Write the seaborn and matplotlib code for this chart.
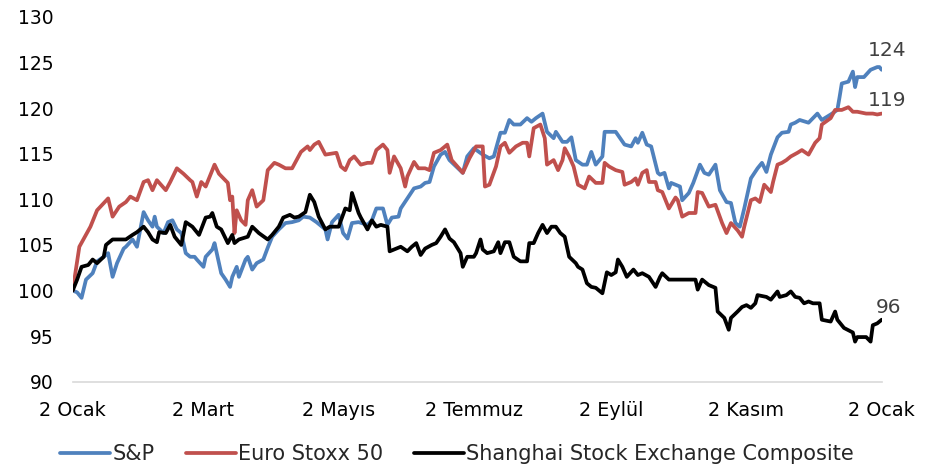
import pandas as pd
import matplotlib
matplotlib.use("Agg")
import matplotlib.pyplot as plt
import seaborn as sns

sns.set_style("white")
plt.rcParams['font.family'] = ['DejaVu Sans']

# day offsets from 2 Ocak 2023 and index values (2 Ocak = 100)
spx_days = [0, 2, 4, 6, 9, 11, 14, 16, 18, 20, 23, 24, 27, 29, 32, 34, 36, 37, 38, 41,
            43, 45, 47, 49, 51, 53, 55, 56, 59, 60, 63, 64, 65, 67, 69, 71, 72, 74, 75, 78,
            79, 81, 83, 86, 88, 90, 93, 96, 99, 102, 104, 107, 110, 114, 115, 117, 120, 122, 124, 126,
            129, 133, 135, 137, 140, 142, 144, 147, 148, 151, 154, 157, 159, 161, 163, 166, 168, 170, 173, 176,
            178, 181, 185, 188, 190, 193, 195, 197, 199, 202, 205, 207, 209, 212, 214, 217, 218, 221, 223, 225,
            227, 230, 232, 234, 236, 239, 240, 243, 245, 249, 252, 254, 255, 257, 259, 261, 264, 265, 267, 269,
            270, 274, 275, 278, 280, 283, 285, 287, 290, 292, 295, 297, 299, 301, 303, 306, 309, 311, 313, 315,
            318, 320, 323, 324, 326, 328, 332, 334, 336, 338, 342, 345, 346, 347, 350, 352, 353, 354, 357, 360,
            363, 364, 365]
spx_vals = [100, 99.8, 99.2, 101.2, 101.9, 103.2, 103.7, 104.1, 101.5, 103, 104.6, 104.8, 105.6, 104.8, 108.6, 107.7, 107, 108.1, 107, 106.3,
            107.5, 107.7, 106.7, 106.3, 104.1, 103.7, 103.7, 103.4, 102.6, 103.7, 104.5, 105.2, 104.1, 101.9, 101.2, 100.4, 101.5, 102.6, 101.5, 103.4,
            103.7, 102.3, 103, 103.4, 104.7, 105.9, 106.7, 107.4, 107.5, 107.7, 108.1, 108, 107.5, 106.7, 105.6, 107.5, 108.3, 106.3, 105.7, 107.4,
            107.5, 107.2, 107.7, 109, 109, 107.2, 108, 108.1, 109, 110.1, 111.2, 111.4, 111.8, 111.9, 113.6, 114.9, 115.2, 114.3, 113.6, 112.9,
            114.7, 115.6, 114.9, 114.5, 114.7, 117.3, 117.3, 118.7, 118.2, 118.2, 118.9, 118.5, 118.9, 119.4, 117.4, 116.7, 117.4, 116.3, 116.3, 116.8,
            114.3, 113.8, 113.8, 115.2, 113.8, 114.7, 117.4, 117.4, 117.4, 116, 115.8, 116.7, 116.2, 117.3, 116, 115.8, 112.9, 112.7, 112.9, 111.2,
            111.8, 111.4, 109.9, 110.7, 111.8, 113.8, 112.9, 112.7, 113.8, 111, 109.7, 109.6, 107.4, 107, 109, 112.3, 113.4, 114, 113, 114.9,
            116.8, 117.3, 117.4, 118.2, 118.4, 118.7, 118.4, 118.9, 119.4, 118.7, 119.3, 119.8, 121.2, 122.7, 122.9, 124, 122.3, 123.4, 123.4, 124.2,
            124.5, 124.5, 124.2]

sx5e_days = [0, 3, 8, 11, 16, 18, 21, 24, 26, 29, 32, 34, 36, 38, 42, 44, 47, 50, 53, 54,
             56, 58, 60, 64, 66, 70, 71, 72, 73, 74, 76, 78, 79, 81, 83, 86, 88, 91, 93, 96,
             99, 101, 103, 106, 107, 109, 111, 114, 119, 121, 123, 125, 127, 130, 133, 135, 137, 140, 142, 143,
             145, 148, 150, 151, 154, 156, 159, 161, 163, 166, 169, 171, 175, 176, 179, 182, 185, 186, 188, 191,
             193, 195, 197, 200, 203, 205, 206, 208, 211, 213, 214, 217, 219, 221, 222, 224, 226, 228, 231, 233,
             236, 239, 240, 242, 245, 248, 249, 252, 254, 255, 257, 259, 260, 263, 264, 266, 269, 272, 273, 275,
             278, 281, 282, 284, 287, 290, 293, 295, 297, 300, 302, 303, 306, 308, 310, 312, 315, 316, 318, 320,
             322, 324, 327, 329, 332, 335, 337, 338, 342, 344, 347, 350, 352, 354, 358, 361, 363, 365]
sx5e_vals = [100, 104.8, 107, 108.8, 110.1, 108.1, 109.2, 109.7, 110.3, 109.9, 111.9, 112.1, 111, 112.1, 111, 111.9, 113.4, 112.8, 112.1, 111.9,
             110.3, 111.9, 111.4, 113.8, 112.8, 111.8, 109.9, 110.3, 106.3, 108.8, 107.7, 107.2, 109.9, 111, 109.2, 109.9, 113.2, 114, 113.8, 113.4,
             113.4, 114.3, 115.2, 115.8, 115.4, 116, 116.3, 114.9, 115.1, 113.6, 113.2, 114.3, 114.7, 113.8, 114, 114, 115.4, 116, 115.4, 112.9,
             114.7, 113.4, 111.4, 112.5, 114.1, 113.4, 113.4, 113.2, 115.1, 115.4, 116, 114.3, 113.2, 112.9, 114.5, 115.8, 115.8, 111.4, 111.6, 113.6,
             115.8, 116.2, 115.1, 115.8, 116.2, 116.2, 114.7, 117.8, 118.2, 116.7, 113.8, 114.3, 113.2, 114.3, 115.6, 114.7, 113.6, 111.6, 111.2, 112.5,
             111.8, 111.8, 114, 113.6, 113.2, 113, 111.6, 111.9, 112.3, 111.6, 112.9, 113.2, 111.9, 111.9, 111, 110.8, 109, 110.2, 109.9, 108.1,
             108.5, 108.5, 110.8, 110.7, 109.2, 109.4, 107.4, 106.3, 107.4, 106.6, 105.9, 107, 109.9, 110.1, 109.7, 111.6, 110.8, 111.9, 113.8, 114,
             114.3, 114.7, 115.1, 115.4, 114.9, 116.2, 116.7, 118.2, 118.9, 119.8, 119.8, 120.1, 119.6, 119.6, 119.4, 119.4, 119.3, 119.4]

ssec_days = [0, 2, 4, 7, 9, 11, 14, 15, 18, 24, 27, 29, 32, 34, 36, 38, 39, 42, 44, 46,
             49, 51, 54, 57, 60, 62, 63, 65, 67, 70, 72, 73, 75, 79, 81, 84, 88, 90, 93, 95,
             98, 100, 102, 105, 107, 109, 111, 114, 116, 120, 123, 125, 126, 129, 130, 133, 135, 137, 139, 142,
             143, 145, 148, 151, 153, 155, 157, 159, 162, 164, 166, 168, 170, 172, 175, 176, 178, 181, 182, 184,
             185, 187, 190, 192, 193, 195, 197, 199, 202, 205, 206, 208, 210, 212, 214, 216, 218, 220, 222, 224,
             227, 228, 230, 232, 234, 236, 239, 241, 243, 245, 246, 248, 250, 253, 255, 257, 260, 263, 265, 266,
             269, 281, 282, 284, 287, 290, 291, 294, 296, 297, 300, 302, 304, 306, 308, 309, 313, 315, 318, 319,
             322, 324, 326, 328, 330, 332, 334, 337, 338, 342, 344, 345, 348, 352, 353, 354, 358, 360, 361, 363,
             365]
ssec_vals = [100, 101.2, 102.6, 102.8, 103.4, 103, 103.7, 105, 105.6, 105.6, 106.1, 106.4, 107, 106.4, 105.6, 105.3, 106.4, 106.3, 107.2, 105.9,
             105, 107.5, 107, 106.1, 108, 108.1, 108.5, 107, 106.7, 105.2, 106.1, 105.2, 105.6, 105.9, 107, 106.3, 105.6, 106.1, 107, 108,
             108.3, 108, 108.1, 108.6, 110.5, 109.7, 108.1, 106.7, 107, 107, 109, 108.8, 110.7, 108.5, 108, 106.7, 107.7, 107, 107.2, 107,
             104.3, 104.5, 104.8, 104.3, 104.8, 105.2, 103.9, 104.6, 105, 105.2, 105.9, 106.7, 105.7, 105.3, 104.1, 102.6, 103.7, 103.7, 104.1, 105.6,
             104.5, 104.1, 104.3, 105.3, 104.1, 105.3, 105.3, 103.7, 103.2, 103.2, 105.2, 105.2, 106.3, 107.2, 106.3, 107, 107, 106.3, 105.9, 103.7,
             103, 102.6, 102.3, 100.8, 100.4, 100.3, 99.7, 102, 101.7, 102, 103.4, 102.6, 101.5, 102.3, 101.7, 101.9, 101.5, 100.4, 101.5, 101.9,
             101.2, 101.2, 100.1, 101.2, 100.6, 100.3, 97.7, 97, 95.7, 97, 97.7, 98.2, 98.4, 98.1, 98.6, 99.5, 99.3, 99, 99.9, 99.3,
             99.5, 99.9, 99.3, 99.2, 98.6, 98.8, 98.6, 98.6, 96.8, 96.6, 97.7, 96.8, 95.9, 95.4, 94.4, 94.9, 94.9, 94.4, 96.2, 96.4,
             96.8]

series_names = ["S&P", "Euro Stoxx 50", "Shanghai Stock Exchange Composite"]
series_colors = ["#4F81BD", "#C0504D", "#000000"]
end_labels = ["124", "119", "96"]

tick_dates = ["2023-01-02", "2023-03-02", "2023-05-02", "2023-07-02",
              "2023-09-02", "2023-11-02", "2024-01-02"]
tick_labels = ["2 Ocak", "2 Mart", "2 Mayıs", "2 Temmuz", "2 Eylül", "2 Kasım", "2 Ocak"]

start = pd.Timestamp("2023-01-02")


def make_frame(days, vals, name):
    return pd.DataFrame({
        "tarih": start + pd.to_timedelta(days, unit="D"),
        "deger": vals,
        "seri": name,
    })


df = pd.concat([
    make_frame(spx_days, spx_vals, series_names[0]),
    make_frame(sx5e_days, sx5e_vals, series_names[1]),
    make_frame(ssec_days, ssec_vals, series_names[2]),
], ignore_index=True)

fig = plt.figure(figsize=(9.32, 4.69), dpi=100)
ax = fig.add_axes([0.078, 0.186, 0.868, 0.778])

sns.lineplot(data=df, x="tarih", y="deger", hue="seri", hue_order=series_names,
             palette=series_colors, linewidth=2.7, ax=ax, legend=True)

ax.set_xlim(pd.Timestamp(tick_dates[0]), pd.Timestamp(tick_dates[-1]))
ax.set_ylim(90, 130)
ax.set_yticks(range(90, 131, 5))
ax.set_xticks(pd.to_datetime(tick_dates))
ax.set_xticklabels(tick_labels)
ax.set_xlabel("")
ax.set_ylabel("")

for side in ["left", "right", "top"]:
    ax.spines[side].set_visible(False)
ax.spines["bottom"].set_color("#D9D9D9")
ax.spines["bottom"].set_linewidth(1.2)
ax.tick_params(axis="y", length=0, pad=14, labelsize=13.5, labelcolor="#000000")
ax.tick_params(axis="x", length=6, width=1.2, color="#D9D9D9", pad=8,
               labelsize=13.8, labelcolor="#000000")

# end-of-series labels
last_points = [(spx_days[-1], spx_vals[-1]), (sx5e_days[-1], sx5e_vals[-1]), (ssec_days[-1], ssec_vals[-1])]
offsets = [(4, 14), (4, 9.5), (5, 9)]
for (d, v), lab, off in zip(last_points, end_labels, offsets):
    ax.annotate(lab, xy=(start + pd.Timedelta(days=d), v), xytext=off,
                textcoords="offset points", ha="center", va="center",
                fontsize=14.5, color="#404040", annotation_clip=False)

handles, labels = ax.get_legend_handles_labels()
ax.legend(handles, labels, loc="upper center", bbox_to_anchor=(0.475, -0.12),
          ncol=3, frameon=False, fontsize=15, handlelength=2.4,
          handletextpad=0.1, columnspacing=1.5)

fig.savefig("out.png", dpi=100)
